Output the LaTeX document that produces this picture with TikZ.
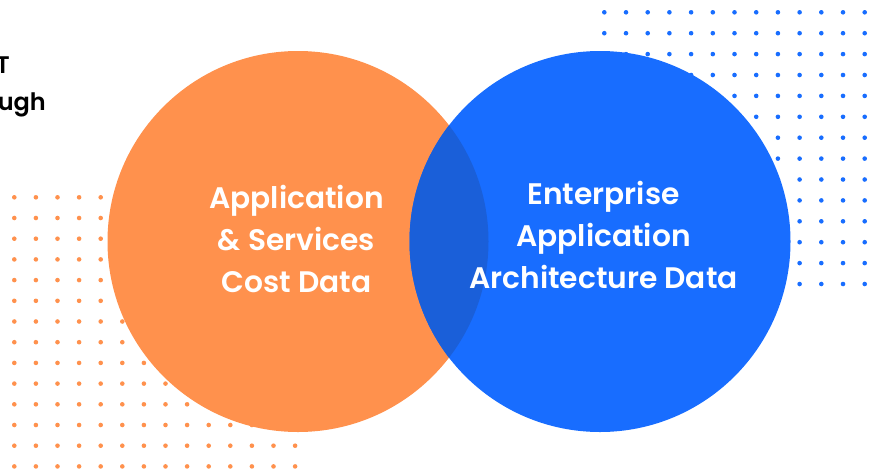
\documentclass[tikz,border=0pt]{standalone}
\usepackage{fontspec}
\setmainfont{Poppins}[BoldFont={Poppins SemiBold}]
\definecolor{orangeC}{HTML}{FF914D}
\definecolor{blueC}{HTML}{186DFF}
\definecolor{mixC}{HTML}{1A5FD9}

\begin{document}
\begin{tikzpicture}[
x=1pt, y=-1pt,
  circ/.style = {circle, minimum size=381pt, inner sep=0pt, outer sep=0pt},% the two sets
   lbl/.style = {text=white, align=center, font=\bfseries\fontsize{29.7}{42}\selectfont},
  head/.style = {anchor=base east, inner sep=0pt, font=\bfseries\fontsize{24}{30}\selectfont},
  odot/.style = {fill=orangeC},
  bdot/.style = {fill=blueC},
                    ]
\useasboundingbox (0,0) rectangle (882,469);
% dot fields
\foreach \i in {0,...,13}
  \foreach \j in {0,...,13}
    \fill[odot] (14.3+21.6*\i, 197.3+20.7*\j) circle (2.3pt);
\foreach \i in {0,...,12}
  \foreach \j in {0,...,13}
    \fill[bdot] (604.3+21.7*\i, 12.3+20.9*\j) circle (2.3pt);
% heading, cut at the left edge
\node[head] (headA) at (10,73) {T};
\node[head] (headB) at (46,110) {ugh};
% circles
\node[circ, fill=orangeC] (cost) at (298,241.5) {};
\node[circ, fill=blueC]   (arch) at (600,241.5) {};
\begin{scope}
  \clip (cost.center) circle (190.5pt);
  \fill[mixC] (arch.center) circle (190.5pt);
\end{scope}
% base is the last line here
\node[lbl, anchor=base] (costtxt) at (296.5,292) {Application\\ \& Services\\ Cost Data};
\node[lbl, anchor=base] (archtxt) at (603.5,288) {Enterprise\\ Application\\ Architecture Data};
\end{tikzpicture}
\end{document}
